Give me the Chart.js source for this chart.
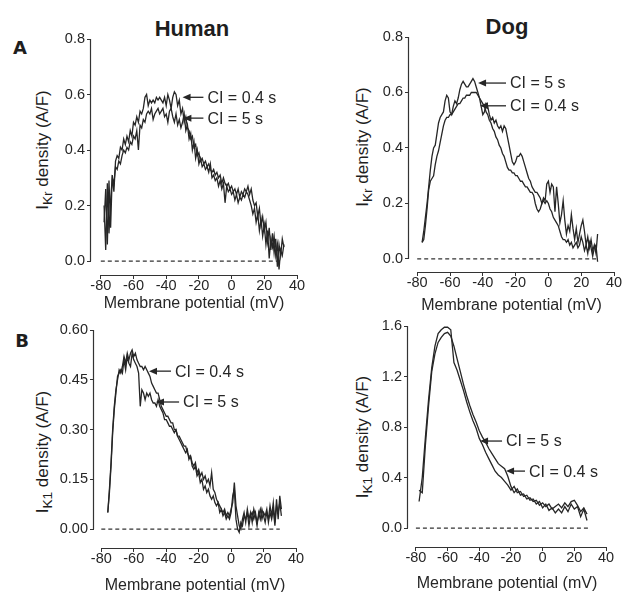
<!DOCTYPE html>
<html>
<head>
<meta charset="utf-8">
<script src="https://cdn.jsdelivr.net/npm/chart.js@4.4.0/dist/chart.umd.min.js"></script>
<style>
body{margin:0;background:#fff;width:622px;height:592px;position:relative;overflow:hidden;font-family:"Liberation Sans",Arial,sans-serif;color:#1e1e1e}
canvas{position:absolute}
.title{position:absolute;font-weight:bold;font-size:22px;transform:translate(-50%,-50%);white-space:nowrap}
.letter{position:absolute;font-family:"DejaVu Sans",sans-serif;font-weight:bold;font-size:18px;transform:translate(-50%,-50%)}
.ytitle{position:absolute;font-size:17px;white-space:nowrap;transform:translate(-50%,-50%) rotate(-90deg)}
.ytitle sub{font-size:0.8em;vertical-align:-0.3em;line-height:0}
</style>
</head>
<body>
<div class="title" style="left:192px;top:29px">Human</div>
<div class="title" style="left:507px;top:27px">Dog</div>
<div class="letter" style="left:20px;top:47px">A</div>
<div class="letter" style="left:22px;top:340px">B</div>
<div class="ytitle" style="left:43px;top:150px">I<sub>Kr</sub> density (A/F)</div>
<div class="ytitle" style="left:363px;top:147px">I<sub>Kr</sub> density (A/F)</div>
<div class="ytitle" style="left:43px;top:452px">I<sub>K1</sub> density (A/F)</div>
<div class="ytitle" style="left:363px;top:437px">I<sub>K1</sub> density (A/F)</div>

<canvas id="humanA"></canvas>
<canvas id="dogA"></canvas>
<canvas id="humanB"></canvas>
<canvas id="dogB"></canvas>

<script>
// tick labels
const xTicks = [-80, -60, -40, -20, 0, 20, 40]
const ykrTicks = [0, 0.2, 0.4, 0.6, 0.8]
const yk1HumanTicks = [0, 0.15, 0.30, 0.45, 0.60]
const yk1DogTicks = [0, 0.4, 0.8, 1.2, 1.6]
const zeroLineX = [-80, 30]

// A, human: IKr
const humanAX = [-78,-77,-76,-75,-74,-73,-72,-71,-70,-69,-68,-67,-66,-65,-64,-63,-62,-61,-60,-59,-58,-57,-56,-55,-54,-53,-52,-51,-50,-49,-48,-47,-46,-45,-44,-43,-42,-41,-40,-39,-38,-37,-36,-35,-34,-33,-32,-31,-30,-29,-28,-27,-26,-25,-24,-23,-22,-21,-20,-19,-18,-17,-16,-15,-14,-13,-12,-11,-10,-9,-8,-7,-6,-5,-4,-3,-2,-1,0,1,2,3,4,5,6,7,8,9,10,11,12,13,14,15,16,17,18,19,20,21,22,23,24,25,26,27,28,29,30,31,32]
const humanA_ci04 = [0.14,0.26,0.06,0.29,0.12,0.31,0.25,0.36,0.38,0.37,
  0.41,0.40,0.44,0.42,0.45,0.43,0.47,0.45,0.50,0.49,
  0.52,0.50,0.54,0.53,0.55,0.59,0.60,0.56,0.58,0.57,
  0.58,0.57,0.59,0.58,0.59,0.58,0.57,0.59,0.56,0.60,
  0.58,0.55,0.59,0.61,0.60,0.56,0.58,0.53,0.55,0.50,
  0.52,0.48,0.47,0.44,0.45,0.41,0.42,0.38,0.39,0.36,
  0.37,0.35,0.36,0.34,0.35,0.33,0.32,0.33,0.31,0.32,
  0.30,0.31,0.28,0.30,0.28,0.27,0.28,0.26,0.27,0.25,
  0.26,0.24,0.26,0.23,0.25,0.24,0.26,0.25,0.27,0.24,
  0.26,0.22,0.20,0.21,0.16,0.19,0.13,0.16,0.11,0.14,
  0.07,0.12,0.04,0.10,0.03,0.08,-0.02,0.06,0.02,0.08,0.05]
const humanA_ci5 = [0.20,0.04,0.28,0.10,0.22,0.30,0.28,0.34,0.33,0.36,
  0.35,0.38,0.40,0.39,0.41,0.40,0.43,0.42,0.45,0.44,
  0.47,0.40,0.49,0.48,0.51,0.50,0.53,0.54,0.53,0.55,
  0.51,0.53,0.54,0.55,0.53,0.54,0.55,0.52,0.53,0.50,
  0.54,0.55,0.52,0.50,0.53,0.49,0.51,0.48,0.50,0.53,
  0.47,0.49,0.44,0.46,0.40,0.43,0.37,0.40,0.35,0.37,
  0.34,0.35,0.33,0.34,0.32,0.35,0.30,0.31,0.29,0.30,
  0.27,0.29,0.26,0.28,0.21,0.27,0.25,0.26,0.24,0.25,
  0.22,0.24,0.21,0.23,0.22,0.24,0.23,0.25,0.24,0.22,
  0.20,0.17,0.19,0.14,0.17,0.11,0.15,0.09,0.13,0.06,
  0.11,0.01,0.08,0.05,0.09,0.02,0.06,-0.03,0.04,0.02,0.06]

// A, dog: IKr
const dogAX = [-77,-76,-75,-74,-73,-72,-71,-70,-69,-68,-67,-66,-65,-64,-63,-62,-61,-60,-59,-58,-57,-56,-55,-54,-53,-52,-51,-50,-49,-48,-47,-46,-45,-44,-43,-42,-41,-40,-39,-38,-37,-36,-35,-34,-33,-32,-31,-30,-29,-28,-27,-26,-25,-24,-23,-22,-21,-20,-19,-18,-17,-16,-15,-14,-13,-12,-11,-10,-9,-8,-7,-6,-5,-4,-3,-2,-1,0,1,2,3,4,5,6,7,8,9,10,11,12,13,14,15,16,17,18,19,20,21,22,23,24,25,26,27,28,29,30]
const dogA_ci5 = [0.06,0.10,0.15,0.20,0.26,0.32,0.37,0.40,0.41,0.45,
  0.49,0.51,0.52,0.53,0.57,0.59,0.58,0.53,0.52,0.55,
  0.57,0.56,0.58,0.61,0.63,0.64,0.63,0.62,0.62,0.63,
  0.64,0.65,0.64,0.62,0.60,0.58,0.55,0.52,0.53,0.56,
  0.55,0.52,0.50,0.51,0.49,0.50,0.48,0.47,0.48,0.46,
  0.48,0.47,0.44,0.41,0.38,0.35,0.34,0.35,0.37,0.37,
  0.38,0.37,0.35,0.33,0.31,0.29,0.28,0.26,0.25,0.24,
  0.24,0.23,0.22,0.20,0.22,0.21,0.27,0.28,0.24,0.27,
  0.26,0.17,0.26,0.20,0.13,0.16,0.21,0.14,0.09,0.12,
  0.10,0.16,0.11,0.07,0.11,0.06,0.09,0.12,0.14,0.10,
  0.05,0.08,0.04,0.07,0.03,0.05,0.02,0.09]
const dogA_ci04 = [0.06,0.07,0.12,0.18,0.25,0.28,0.29,0.30,0.34,0.37,
  0.39,0.42,0.45,0.48,0.50,0.51,0.51,0.52,0.52,0.53,
  0.54,0.55,0.56,0.56,0.57,0.58,0.58,0.59,0.59,0.59,
  0.60,0.60,0.60,0.60,0.59,0.58,0.57,0.56,0.55,0.53,
  0.52,0.50,0.49,0.47,0.46,0.44,0.43,0.41,0.40,0.38,
  0.37,0.35,0.33,0.32,0.32,0.31,0.31,0.30,0.30,0.29,
  0.28,0.28,0.27,0.26,0.26,0.25,0.24,0.24,0.23,0.20,
  0.18,0.17,0.18,0.20,0.21,0.20,0.21,0.20,0.18,0.17,
  0.15,0.14,0.13,0.12,0.10,0.08,0.07,0.07,0.06,0.07,
  0.05,0.06,0.04,0.05,0.06,0.04,0.05,0.08,0.06,0.03,
  0.05,0.02,0.06,0.04,0.01,0.04,0.05,-0.01]

// B, human: IK1
const humanBX = [-76,-75,-74,-73,-72,-71,-70,-69,-68,-67,-66,-65,-64,-63,-62,-61,-60,-59,-58,-57,-56,-55,-54,-53,-52,-51,-50,-49,-48,-47,-46,-45,-44,-43,-42,-41,-40,-39,-38,-37,-36,-35,-34,-33,-32,-31,-30,-29,-28,-27,-26,-25,-24,-23,-22,-21,-20,-19,-18,-17,-16,-15,-14,-13,-12,-11,-10,-9,-8,-7,-6,-5,-4,-3,-2,-1,0,1,2,3,4,5,6,7,8,9,10,11,12,13,14,15,16,17,18,19,20,21,22,23,24,25,26,27,28,29,30,31]
const humanB_ci04 = [0.05,0.12,0.20,0.30,0.37,0.42,0.45,0.48,0.47,0.49,
  0.52,0.50,0.53,0.51,0.53,0.54,0.52,0.53,0.51,0.50,
  0.49,0.49,0.48,0.49,0.48,0.47,0.46,0.44,0.43,0.42,
  0.41,0.41,0.39,0.37,0.36,0.35,0.34,0.34,0.33,0.32,
  0.32,0.30,0.30,0.28,0.28,0.27,0.26,0.25,0.25,0.23,
  0.22,0.22,0.20,0.19,0.20,0.17,0.18,0.16,0.17,0.15,
  0.16,0.14,0.15,0.13,0.17,0.12,0.11,0.09,0.08,0.07,
  0.06,0.05,0.06,0.04,0.05,0.04,0.06,0.08,0.14,0.07,
  0.04,0.01,0.00,0.03,0.05,0.02,0.06,0.03,0.05,0.02,
  0.06,0.04,0.01,0.05,0.03,0.06,0.04,0.02,0.05,0.03,
  0.07,0.04,0.08,0.02,0.09,0.03,0.10,0.06]
const humanB_ci5 = [0.05,0.11,0.19,0.29,0.36,0.41,0.46,0.47,0.48,0.47,
  0.51,0.48,0.52,0.50,0.49,0.53,0.51,0.50,0.49,0.47,
  0.37,0.42,0.41,0.39,0.41,0.40,0.41,0.39,0.38,0.38,
  0.37,0.39,0.37,0.36,0.35,0.33,0.33,0.32,0.31,0.31,
  0.30,0.29,0.30,0.28,0.27,0.26,0.25,0.24,0.23,0.24,
  0.21,0.22,0.19,0.18,0.19,0.16,0.17,0.14,0.15,0.12,
  0.13,0.11,0.12,0.10,0.09,0.10,0.08,0.07,0.08,0.05,
  0.06,0.04,0.05,0.03,0.04,0.03,0.05,0.10,0.12,0.03,
  0.00,-0.01,0.02,0.01,0.04,0.03,0.05,0.01,0.04,0.05,
  0.03,0.05,0.02,0.04,0.06,0.03,0.05,0.04,0.06,0.02,
  0.05,0.03,0.06,0.01,0.07,0.05,0.08,0.04]

// B, dog: IK1
const dogBX = [-78,-76,-74,-72,-70,-68,-66,-64,-62,-60,-58,-56,-54,-52,-50,-48,-46,-44,-42,-40,-38,-36,-34,-32,-30,-28,-26,-24,-22,-20,-18,-16,-14,-12,-10,-8,-6,-4,-2,0,2,4,6,8,10,12,14,16,18,20,22,24,26,28]
const dogB_ci5 = [0.21,0.40,0.72,1.02,1.27,1.44,1.54,1.57,1.59,1.59,
  1.57,1.31,1.25,1.17,1.09,1.00,0.92,0.85,0.79,0.71,
  0.66,0.60,0.55,0.50,0.45,0.42,0.40,0.37,0.34,0.30,
  0.33,0.28,0.29,0.25,0.26,0.22,0.23,0.19,0.21,0.16,
  0.19,0.14,0.16,0.12,0.15,0.12,0.17,0.13,0.19,0.15,
  0.17,0.09,0.15,0.06]
const dogB_ci04 = [0.30,0.28,0.66,0.97,1.24,1.38,1.47,1.51,1.54,1.55,
  1.52,1.44,1.34,1.24,1.14,1.05,0.97,0.90,0.84,0.77,
  0.72,0.68,0.63,0.59,0.55,0.51,0.49,0.47,0.41,0.33,
  0.28,0.31,0.26,0.27,0.23,0.24,0.21,0.22,0.18,0.20,
  0.17,0.19,0.15,0.17,0.19,0.16,0.20,0.17,0.21,0.22,
  0.18,0.13,0.16,0.11]

function pts(xs, ys){ return xs.map((x, i) => ({x: x, y: ys[i]})) }

const INK = '#262626'

const axisPlugin = {
  id: 'axisPlugin',
  afterDatasetsDraw(chart){
    const ctx = chart.ctx
    const area = chart.chartArea
    const xs = chart.scales.x, ys = chart.scales.y
    const opts = chart.options.plugins.axisPlugin
    ctx.save()
    ctx.strokeStyle = '#333'
    ctx.lineWidth = 1.2
    ctx.beginPath()
    let lx = Math.round(area.left) - 0.5
    ctx.moveTo(lx, ys.getPixelForValue(opts.yTop))
    ctx.lineTo(lx, ys.getPixelForValue(0))
    let by = Math.round(area.bottom) + 0.5
    ctx.moveTo(xs.getPixelForValue(xTicks[0]), by)
    ctx.lineTo(xs.getPixelForValue(xTicks[xTicks.length - 1]), by)
    ctx.stroke()

    // arrows + labels
    ctx.font = '16px "Liberation Sans", Arial, sans-serif'
    ctx.fillStyle = INK
    ctx.textBaseline = 'middle'
    ctx.lineWidth = 1.3
    ctx.strokeStyle = INK
    opts.notes.forEach(n => {
      let tx = xs.getPixelForValue(n.tipX), ty = ys.getPixelForValue(n.tipY)
      let sx = xs.getPixelForValue(n.textX)
      ctx.beginPath()
      ctx.moveTo(tx + 6, ty)
      ctx.lineTo(sx - 4, ty)
      ctx.stroke()
      ctx.beginPath()
      ctx.moveTo(tx, ty)
      ctx.lineTo(tx + 8, ty - 3.5)
      ctx.lineTo(tx + 8, ty + 3.5)
      ctx.closePath()
      ctx.fill()
      ctx.fillText(n.text, sx, ty + 1)
    })
    ctx.restore()
  }
}

function makePanel(id, p){
  let cv = document.getElementById(id)
  let w = p.R - p.L + 60 + 16
  let h = p.B - p.T + 12 + p.xh
  cv.width = w; cv.height = h
  cv.style.left = (p.L - 60) + 'px'
  cv.style.top = (p.T - 12) + 'px'
  cv.style.width = w + 'px'
  cv.style.height = h + 'px'
  new Chart(cv.getContext('2d'), {
    type: 'line',
    data: {
      datasets: [
        {data: pts(p.x, p.s1), borderColor: INK, borderWidth: 1.3, pointRadius: 0, tension: 0},
        {data: pts(p.x, p.s2), borderColor: INK, borderWidth: 1.3, pointRadius: 0, tension: 0},
        {data: pts(zeroLineX, [0, 0]), borderColor: '#333', borderWidth: 1.2, borderDash: [4, 3], pointRadius: 0}
      ]
    },
    options: {
      responsive: false,
      animation: false,
      layout: {padding: {left: 0, top: 12, right: 16, bottom: 0}},
      plugins: {
        legend: {display: false},
        tooltip: {enabled: false},
        axisPlugin: {yTop: p.yTicks[p.yTicks.length - 1], notes: p.notes}
      },
      scales: {
        x: {
          type: 'linear', min: p.xmin, max: 40,
          afterBuildTicks: s => { s.ticks = xTicks.map(v => ({value: v})) },
          afterFit: s => { s.height = p.xh },
          grid: {drawOnChartArea: false, drawTicks: true, tickLength: 4, color: '#333'},
          border: {display: false},
          ticks: {color: INK, padding: 0, maxRotation: 0, font: {family: '"Liberation Sans", Arial, sans-serif', size: 14.5, lineHeight: 1}},
          title: {display: true, text: 'Membrane potential (mV)', color: INK, padding: 0,
                  font: {family: '"Liberation Sans", Arial, sans-serif', size: 16, lineHeight: 1.2}}
        },
        y: {
          type: 'linear', min: p.ymin, max: p.yTicks[p.yTicks.length - 1],
          afterBuildTicks: s => { s.ticks = p.yTicks.map(v => ({value: v})) },
          afterFit: s => { s.width = 60 },
          grid: {drawOnChartArea: false, drawTicks: true, tickLength: 4, color: '#333'},
          border: {display: false},
          ticks: {color: INK, padding: 2, callback: v => v.toFixed(p.digits),
                  font: {family: '"Liberation Sans", Arial, sans-serif', size: 14.5, lineHeight: 1}}
        }
      }
    },
    plugins: [axisPlugin]
  })
}

makePanel('humanA', {L: 91, R: 297, T: 39, B: 275, xh: 38, xmin: -86, ymin: -0.05,
  yTicks: ykrTicks, digits: 1, x: humanAX, s1: humanA_ci04, s2: humanA_ci5,
  notes: [{text: 'CI = 0.4 s', tipX: -30, tipY: 0.59, textX: -14.8},
          {text: 'CI = 5 s', tipX: -29.5, tipY: 0.515, textX: -14.8}]})
makePanel('dogA', {L: 409, R: 614, T: 37, B: 272, xh: 43, xmin: -85, ymin: -0.047,
  yTicks: ykrTicks, digits: 1, x: dogAX, s1: dogA_ci5, s2: dogA_ci04,
  notes: [{text: 'CI = 5 s', tipX: -42.9, tipY: 0.634, textX: -23.4},
          {text: 'CI = 0.4 s', tipX: -41.7, tipY: 0.552, textX: -23.4}]})
makePanel('humanB', {L: 94, R: 296, T: 330, B: 548, xh: 47, xmin: -84.5, ymin: -0.057,
  yTicks: yk1HumanTicks, digits: 2, x: humanBX, s1: humanB_ci04, s2: humanB_ci5,
  notes: [{text: 'CI = 0.4 s', tipX: -50.6, tipY: 0.476, textX: -34.6},
          {text: 'CI = 5 s', tipX: -46.3, tipY: 0.383, textX: -29.6}]})
makePanel('dogB', {L: 408, R: 606, T: 326, B: 547, xh: 46, xmin: -85, ymin: -0.15,
  yTicks: yk1DogTicks, digits: 1, x: dogBX, s1: dogB_ci5, s2: dogB_ci04,
  notes: [{text: 'CI = 5 s', tipX: -39.5, tipY: 0.689, textX: -23.1},
          {text: 'CI = 0.4 s', tipX: -23.1, tipY: 0.451, textX: -8.6}]})
</script>
</body>
</html>
